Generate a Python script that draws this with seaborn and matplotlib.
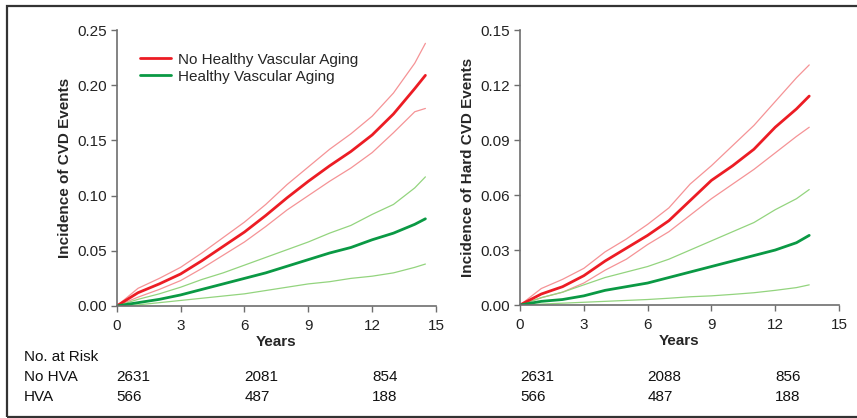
import matplotlib
matplotlib.use("Agg")
import matplotlib.pyplot as plt
import matplotlib.patches as patches
import matplotlib.transforms as mtransforms
import seaborn as sns

# Cumulative incidence (point estimate and 95% CI)
years_cvd = [0, 1, 2, 3, 4, 5, 6, 7, 8, 9, 10, 11, 12, 13, 14, 14.5]
nohva_cvd = [0, .012, .020, .029, .041, .054, .067, .082, .098, .113, .127, .140, .155, .174, .197, .209]
nohva_cvd_hi = [0, .016, .025, .035, .048, .062, .076, .092, .110, .126, .142, .156, .172, .193, .220, .238]
nohva_cvd_lo = [0, .008, .015, .023, .034, .046, .058, .072, .087, .100, .113, .125, .139, .157, .176, .179]
hva_cvd = [0, .003, .006, .010, .015, .020, .025, .030, .036, .042, .048, .053, .060, .066, .074, .079]
hva_cvd_hi = [0, .006, .011, .017, .024, .030, .037, .044, .051, .058, .066, .073, .083, .092, .107, .117]
hva_cvd_lo = [0, .001, .003, .005, .007, .009, .011, .014, .017, .020, .022, .025, .027, .030, .035, .038]

years_hard = [0, 1, 2, 3, 4, 5, 6, 7, 8, 9, 10, 11, 12, 13, 13.6]
nohva_hard = [0, .006, .010, .016, .024, .031, .038, .046, .057, .068, .076, .085, .097, .107, .114]
nohva_hard_hi = [0, .009, .014, .020, .029, .036, .044, .053, .066, .076, .087, .098, .111, .124, .131]
nohva_hard_lo = [0, .004, .007, .012, .019, .025, .033, .040, .049, .058, .066, .074, .083, .092, .097]
hva_hard = [0, .002, .003, .005, .008, .010, .012, .015, .018, .021, .024, .027, .030, .034, .038]
hva_hard_hi = [0, .004, .007, .011, .015, .018, .021, .025, .030, .035, .040, .045, .052, .058, .063]
hva_hard_lo = [0, .0005, .001, .0015, .002, .0025, .003, .0037, .0045, .005, .0058, .0067, .008, .0095, .011]

# Numbers at risk at years 0, 6, 12
risk_years = [0, 6, 12]
risk_nohva_cvd = [2631, 2081, 854]
risk_hva_cvd = [566, 487, 188]
risk_nohva_hard = [2631, 2088, 856]
risk_hva_hard = [566, 487, 188]

RED, RED_CI = "#ec1c24", "#f59396"
GREEN, GREEN_CI = "#0a9944", "#93d47e"

sns.set_style("ticks")
plt.rcParams["font.family"] = ["Liberation Sans", "DejaVu Sans"]
plt.rcParams["axes.edgecolor"] = "#6e6e6e"
plt.rcParams["xtick.color"] = "#6e6e6e"
plt.rcParams["ytick.color"] = "#6e6e6e"
plt.rcParams["xtick.labelcolor"] = "#222222"
plt.rcParams["ytick.labelcolor"] = "#222222"

fig = plt.figure(figsize=(8.57, 4.18), dpi=100)
ax1 = fig.add_axes([0.1362, 0.268, 0.3726, 0.660])
ax2 = fig.add_axes([0.6068, 0.2703, 0.3722, 0.6577])


def draw_panel(ax, t, red, red_hi, red_lo, green, green_hi, green_lo, ymax, yticks, ylabel):
    for arr in (red_hi, red_lo):
        sns.lineplot(x=t, y=arr, ax=ax, color=RED_CI, lw=0.9)
    for arr in (green_hi, green_lo):
        sns.lineplot(x=t, y=arr, ax=ax, color=GREEN_CI, lw=0.9)
    sns.lineplot(x=t, y=red, ax=ax, color=RED, lw=2.0, label="No Healthy Vascular Aging")
    sns.lineplot(x=t, y=green, ax=ax, color=GREEN, lw=2.0, label="Healthy Vascular Aging")
    ax.set_xlim(0, 15)
    ax.set_ylim(0, ymax)
    ax.set_xticks([0, 3, 6, 9, 12, 15])
    ax.set_yticks(yticks)
    ax.set_yticklabels([f"{v:.2f}" for v in yticks])
    ax.tick_params(labelsize=11, length=4, width=1)
    ax.tick_params(axis="x", pad=5.5)
    ax.tick_params(axis="y", pad=3)
    ax.set_xlabel("Years", fontsize=11, fontweight="bold", labelpad=1)
    ax.set_ylabel(ylabel, fontsize=11, fontweight="bold", labelpad=4)
    for side in ("top", "right"):
        ax.spines[side].set_visible(False)
    for side in ("left", "bottom"):
        ax.spines[side].set_linewidth(1.2)


draw_panel(ax1, years_cvd, nohva_cvd, nohva_cvd_hi, nohva_cvd_lo,
           hva_cvd, hva_cvd_hi, hva_cvd_lo, 0.25,
           [0.0, 0.05, 0.10, 0.15, 0.20, 0.25], "Incidence of CVD Events")
draw_panel(ax2, years_hard, nohva_hard, nohva_hard_hi, nohva_hard_lo,
           hva_hard, hva_hard_hi, hva_hard_lo, 0.15,
           [0.0, 0.03, 0.06, 0.09, 0.12, 0.15], "Incidence of Hard CVD Events")

ax1.legend(loc="upper left", bbox_to_anchor=(0.055, 0.94), frameon=False, fontsize=11,
           handlelength=2.0, handletextpad=0.45, labelspacing=0.2, borderaxespad=0)
ax2.get_legend().remove()

# risk table
fig.text(24 / 857, 1 - 357 / 418, "No. at Risk", fontsize=11, va="center", color="#111111")
fig.text(24 / 857, 1 - 377 / 418, "No HVA", fontsize=11, va="center", color="#111111")
fig.text(24 / 857, 1 - 397 / 418, "HVA", fontsize=11, va="center", color="#111111")
for ax, top, bot in ((ax1, risk_nohva_cvd, risk_hva_cvd), (ax2, risk_nohva_hard, risk_hva_hard)):
    tr = mtransforms.blended_transform_factory(ax.transData, fig.transFigure)
    for yr, a, b in zip(risk_years, top, bot):
        fig.text(yr, 1 - 377 / 418, str(a), transform=tr, fontsize=11, va="center", color="#111111")
        fig.text(yr, 1 - 397 / 418, str(b), transform=tr, fontsize=11, va="center", color="#111111")

# outer frame (right edge runs off the image)
frame = patches.Rectangle((7 / 857, 1.5 / 418), 1.2, 410.5 / 418, transform=fig.transFigure,
                          fill=False, edgecolor="#333333", lw=1.6, clip_on=False)
fig.patches.append(frame)

fig.savefig("out.png", dpi=100)
